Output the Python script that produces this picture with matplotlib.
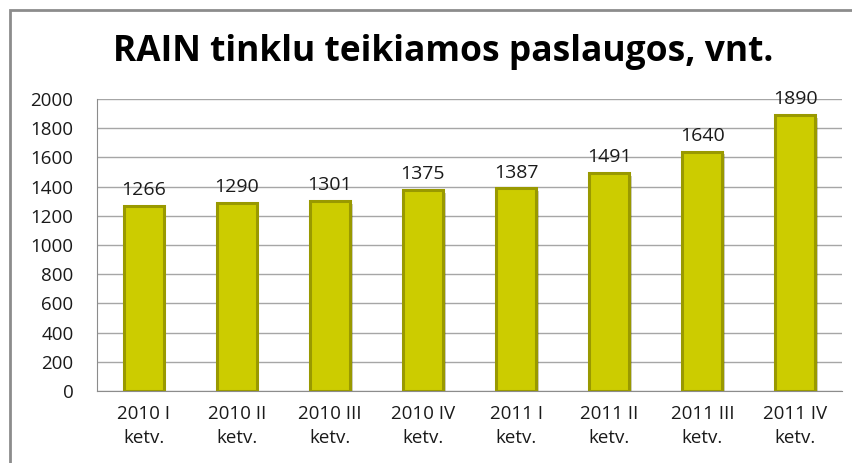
import matplotlib
matplotlib.use("Agg")
import matplotlib.pyplot as plt
from matplotlib.patches import Rectangle
import matplotlib.patheffects as pe

categories = ["2010 I\nketv.", "2010 II\nketv.", "2010 III\nketv.", "2010 IV\nketv.",
              "2011 I\nketv.", "2011 II\nketv.", "2011 III\nketv.", "2011 IV\nketv."]
values = [1266, 1290, 1301, 1375, 1387, 1491, 1640, 1890]
yticks = [0, 200, 400, 600, 800, 1000, 1200, 1400, 1600, 1800, 2000]
title = "RAIN tinklu teikiamos paslaugos, vnt."

plt.rcParams['font.family'] = ['Open Sans', 'DejaVu Sans']

W, H = 853, 463
fig = plt.figure(figsize=(W / 100, H / 100), dpi=100)
fig.patch.set_facecolor("white")

# outer chart border (extends past right/bottom edge)
fig.patches.append(Rectangle((10 / W, -0.05), 1.1, (H - 10) / H + 0.05,
                             transform=fig.transFigure, fill=False,
                             edgecolor="#8c8c8c", linewidth=2, zorder=0))

ax = fig.add_axes([97 / W, (H - 391) / H, (842 - 97) / W, (391 - 99) / H])
x = list(range(len(values)))
ax.bar(x, values, width=0.43, color="#CCCC00", edgecolor="#999900",
       linewidth=2.2, zorder=3,
       path_effects=[pe.SimplePatchShadow(offset=(2, -2), alpha=0.25),
                     pe.Normal()])

for xi, v in zip(x, values):
    ax.annotate(str(v), (xi, v), xytext=(0, 5), textcoords="offset points",
                ha="center", va="bottom", fontsize=14, color="#1a1a1a", zorder=4)

ax.set_ylim(0, 2000)
ax.set_xlim(-0.5, len(values) - 0.5)
ax.set_yticks(yticks)
ax.set_yticklabels([str(t) for t in yticks], fontsize=13.5, color="#1a1a1a")
ax.set_xticks(x)
ax.set_xticklabels(categories, fontsize=13.5, color="#1a1a1a", linespacing=1.45)
ax.tick_params(axis="y", length=0, pad=17)
ax.tick_params(axis="x", length=0, pad=10)
ax.grid(axis="y", color="#a6a6a6", linewidth=1, zorder=0)
ax.set_axisbelow(True)
for s in ["top", "right"]:
    ax.spines[s].set_visible(False)
ax.spines["left"].set_color("#8c8c8c")
ax.spines["bottom"].set_color("#8c8c8c")

fig.text(443 / W, 1 - 52 / H, title, ha="center", va="center",
         fontsize=25.5, fontweight="bold", color="black")

fig.savefig("out.png", dpi=100)
